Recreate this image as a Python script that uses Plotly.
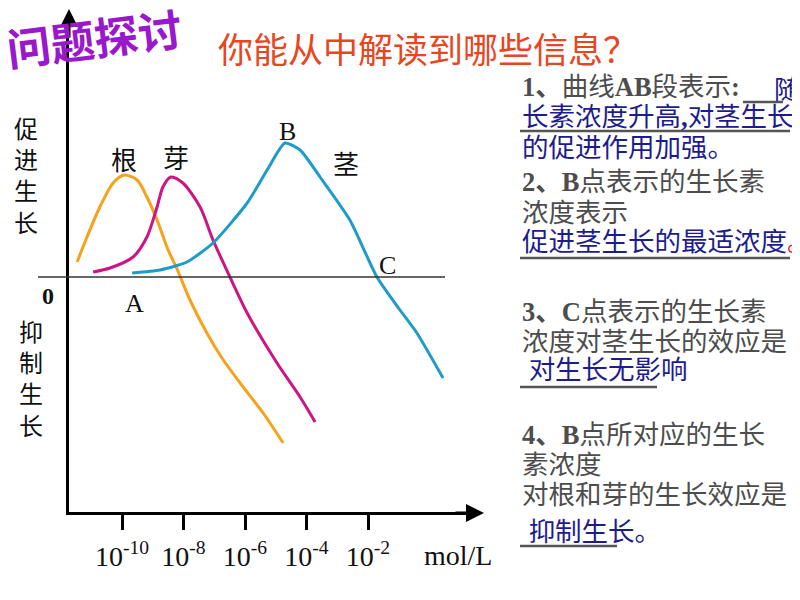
import plotly.graph_objects as go

# auxin concentration as log10(mol/L), effect: >0 promotes, <0 inhibits growth
root_x = [-11.46, -11.14, -10.72, -10.29, -9.93, -9.51, -9.19, -8.86, -8.50, -8.21, -7.79, -7.24, -6.75, -6.16, -5.41, -4.76]
root_y = [0.15, 0.40, 0.70, 0.94, 1.02, 0.97, 0.80, 0.57, 0.27, 0.08, -0.23, -0.56, -0.81, -1.06, -1.36, -1.66]

bud_x = [-10.94, -10.39, -9.64, -9.19, -8.86, -8.67, -8.41, -8.02, -7.46, -7.04, -6.49, -5.93, -4.96, -4.21, -3.72]
bud_y = [0.05, 0.09, 0.20, 0.40, 0.70, 0.90, 1.00, 0.94, 0.70, 0.37, 0.00, -0.36, -0.86, -1.20, -1.45]

stem_x = [-9.67, -8.76, -7.89, -7.04, -5.93, -5.28, -4.70, -4.21, -3.56, -2.59, -1.71, -0.96, -0.41, 0.44]
stem_y = [0.04, 0.07, 0.15, 0.34, 0.74, 1.07, 1.34, 1.27, 1.00, 0.57, 0.00, -0.33, -0.56, -1.01]

tick_vals = [-10, -8, -6, -4, -2]
tick_text = [f"10<sup>{v}</sup>" for v in tick_vals]

GRAY = "#4d4d4d"
BLUE = "#1c1c8e"

# right-hand question text: (text, colour, y in px)
notes = [
    ("<b>1、</b>曲线<b>AB</b>段表示<b>:</b>", GRAY, 87),
    ("长素浓度升高<b>,</b>对茎生长", BLUE, 117),
    ("的促进作用加强。", BLUE, 148),
    ("<b>2、B</b>点表示的生长素", GRAY, 182),
    ("浓度表示", GRAY, 213),
    ("促进茎生长的最适浓度<span style='color:#e02020'>。</span>", BLUE, 242),
    ("<b>3、C</b>点表示的生长素", GRAY, 312),
    ("浓度对茎生长的效应是", GRAY, 342),
    (" 对生长无影响", BLUE, 370),
    ("<b>4、B</b>点所对应的生长", GRAY, 435),
    ("素浓度", GRAY, 465),
    ("对根和芽的生长效应是", GRAY, 495),
    (" 抑制生长。", BLUE, 532),
]
# underlines: (x0, x1, y) px
underlines = [(743, 783, 102), (520, 790, 131), (520, 790, 258), (520, 657, 387), (520, 617, 546)]

# page body has an 8px margin, so the figure is shifted by OFF
OFF = 8
W, H = 800 - OFF, 600 - OFF
px = lambda x: (x - OFF) / W
py = lambda y: 1 - (y - OFF) / H

fig = go.Figure()
fig.add_trace(go.Scatter(x=root_x, y=root_y, mode="lines", name="根",
                         line=dict(color="#f7a21b", width=3, shape="spline", smoothing=0.8)))
fig.add_trace(go.Scatter(x=bud_x, y=bud_y, mode="lines", name="芽",
                         line=dict(color="#cc1585", width=3, shape="spline", smoothing=0.8)))
fig.add_trace(go.Scatter(x=stem_x, y=stem_y, mode="lines", name="茎",
                         line=dict(color="#1e9bc9", width=3, shape="spline", smoothing=0.6)))

CJK = "Noto Sans CJK SC"
SERIF = "Liberation Serif"


def note(x, y, text, size, color, family=CJK, xanchor="center", ref="paper", **kw):
    return dict(x=x, y=y, xref=ref, yref=ref, text=text, showarrow=False, xanchor=xanchor,
                yanchor="middle", font=dict(family=family, size=size, color=color), **kw)


ann = []
# chart labels
for txt, x, y, fam in [
    ("根", -9.93, 1.19, CJK), ("芽", -8.25, 1.21, CJK), ("茎", -2.7, 1.15, CJK),
    ("B", -4.62, 1.46, SERIF), ("C", -1.38, 0.12, SERIF), ("A", -9.58, -0.26, SERIF),
]:
    ann.append(note(x, y, txt, 26, "#111", family=fam, ref="x") | dict(yref="y"))
ann.append(note(px(48), py(296), "<b>0</b>", 24, "#111", family=SERIF))
ann.append(note(px(26), py(175), "促<br>进<br>生<br>长", 24, "#111"))
ann.append(note(px(31), py(377), "抑<br>制<br>生<br>长", 24, "#111"))
ann.append(note(px(458), py(555), "mol/L", 28, "#111", family=SERIF))
# axis arrow heads
ann.append(dict(x=px(69), y=py(4), xref="paper", yref="paper", ax=0, ay=35, text="",
                showarrow=True, arrowhead=2, arrowsize=1.2, arrowwidth=3, arrowcolor="black"))
ann.append(dict(x=px(484), y=py(513), xref="paper", yref="paper", ax=-30, ay=0, text="",
                showarrow=True, arrowhead=2, arrowsize=1.2, arrowwidth=3, arrowcolor="black"))
# titles
ann.append(note(px(94), py(37), "<b>问题探讨</b>", 44, "#9a18cc", textangle=-7))
ann.append(note(px(216), py(47), "你能从中解读到哪些信息？", 35, "#e8461e", xanchor="left"))
# notes
for txt, col, y in notes:
    ann.append(note(px(520), py(y), txt, 26.5, col, family=f"{SERIF}, {CJK}", xanchor="left"))
ann.append(note(px(772), py(87), "随生", 26.5, BLUE, xanchor="left"))

shapes = [dict(type="line", xref="paper", yref="y", x0=px(38), x1=px(445), y0=0, y1=0,
               line=dict(color="#333", width=1.5))]
for x0, x1, y in underlines:
    shapes.append(dict(type="line", xref="paper", yref="paper", x0=px(x0), x1=px(x1), y0=py(y), y1=py(y),
                       line=dict(color="#555", width=2.5)))

fig.update_layout(
    width=W, height=H, margin=dict(l=0, r=0, t=0, b=0),
    paper_bgcolor="white", plot_bgcolor="white", showlegend=False,
    xaxis=dict(domain=[px(69), px(470)], range=[-11.724, 1.317], showgrid=False, zeroline=False,
               showline=True, linewidth=3, linecolor="black",
               tickvals=tick_vals, ticktext=tick_text, ticks="outside", ticklen=15, tickwidth=3,
               tickcolor="black", ticklabelstandoff=2, tickfont=dict(family=SERIF, size=28, color="#111")),
    yaxis=dict(domain=[py(512), py(20)], range=[-2.35, 2.57], showgrid=False, zeroline=False,
               showline=True, linewidth=3, linecolor="black", showticklabels=False, ticks=""),
    annotations=ann, shapes=shapes,
)

fig.write_html("out.html")
